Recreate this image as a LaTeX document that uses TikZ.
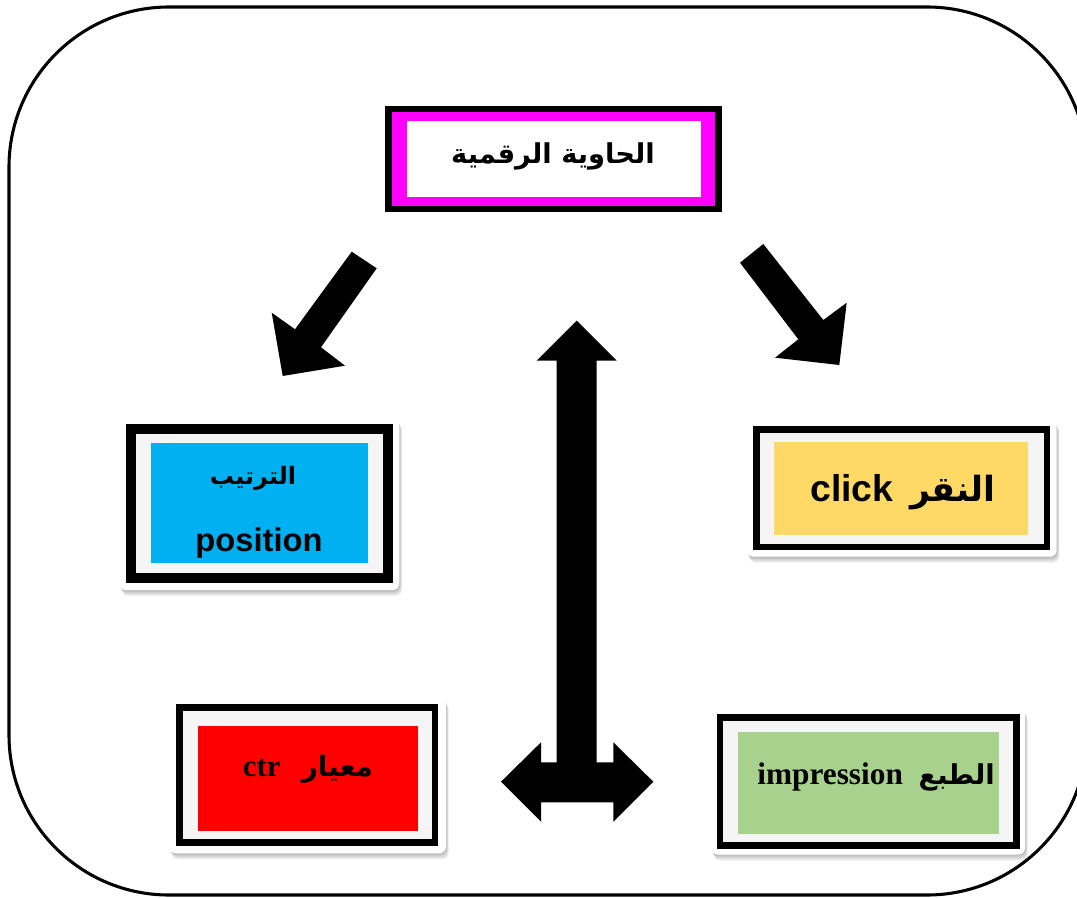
\documentclass[tikz,border=0pt]{standalone}
\usepackage{fontspec}
\setmainfont{Liberation Sans}
\newfontfamily\arabicfont[Script=Arabic]{DejaVu Sans}
\newfontfamily\sansfnt{Liberation Sans}
\newfontfamily\seriffnt{Liberation Serif}
\TeXXeTstate=1
\definecolor{magentaB}{HTML}{FF00FF}
\definecolor{blueB}{HTML}{00B0F0}
\definecolor{yellowB}{HTML}{FFD966}
\definecolor{redB}{HTML}{FF0000}
\definecolor{greenB}{HTML}{A9D18E}
\definecolor{paleB}{HTML}{F5F5F5}
\newcommand\cardshadow[4]{%
  \foreach \s in {1,...,7}{\fill[black,opacity=0.045,rounded corners=5pt] (#1+\s*0.4,#2+\s*0.9) rectangle (#3+\s*0.4,#4+\s*0.9);}%
  \fill[white,rounded corners=5pt] (#1,#2) rectangle (#3,#4);}
\tikzset{
  blockarrow/.style={fill=black},
  txt/.style={inner sep=0pt,anchor=base,text=black}
}
\begin{document}
\begin{tikzpicture}[x=0.75pt,y=-0.75pt]
\useasboundingbox (0,0) rectangle (1077,898);
\clip (0,0) rectangle (1077,898);
% outer frame
\draw[line width=2.3pt,rounded corners=120pt] (9,7) rectangle (1087,895);

% title box
\fill[black] (385,106) rectangle (721.7,211.7);
\fill[magentaB] (391.7,112) rectangle (715,206);
\fill[white] (406.7,120.7) rectangle (700.7,197.3);
\node[txt] (title) at (553,164) {\fontsize{20.5}{24}\arabicfont\bfseries\beginR الحاوية الرقمية\endR};

% position box
\cardshadow{119.3}{418.3}{399.3}{590}
\fill[black] (126,424) rectangle (392.7,583.3);
\fill[paleB] (136,434) rectangle (383.3,573.3);
\fill[blueB] (151,443.3) rectangle (367.7,563.3);
\node[txt] (tartib) at (253,484) {\fontsize{18}{22}\arabicfont\bfseries\beginR الترتيب\endR};
\node[txt] (position) at (259,551.7) {\fontsize{24.5}{28}\sansfnt\bfseries position};

% click box
\cardshadow{746.7}{420}{1056.7}{556.7}
\fill[black] (753.3,426) rectangle (1050,550);
\fill[paleB] (759.5,432.7) rectangle (1044,544);
\fill[yellowB] (774.3,441.7) rectangle (1028.3,535);
\node[txt] (click) at (903,501.7) {\fontsize{28}{30}\sansfnt\bfseries click\hspace{0.45em}{\arabicfont\bfseries\fontsize{26}{28}\selectfont\beginR النقر\endR}};

% ctr box
\cardshadow{169.3}{697.3}{446}{853.3}
\fill[black] (176,704) rectangle (438.3,846);
\fill[paleB] (182.7,710.7) rectangle (431.7,839.3);
\fill[redB] (197.7,726) rectangle (418.3,830.7);
\node[txt] (ctr) at (308,776) {\fontsize{23}{26}\seriffnt\bfseries ctr\hspace{0.7em}{\arabicfont\bfseries\fontsize{21}{24}\selectfont\beginR معيار\endR}};

% impression box
\cardshadow{711}{707.5}{1025}{854.5}
\fill[black] (716.5,714) rectangle (1019.5,848.5);
\fill[paleB] (723,720.5) rectangle (1013,842);
\fill[greenB] (737.5,731.5) rectangle (999,834);
\node[txt] (impr) at (876,784) {\fontsize{23.5}{26}\seriffnt\bfseries impression\hspace{0.5em}{\arabicfont\bfseries\fontsize{20.5}{24}\selectfont\beginR الطبع\endR}};

% block arrows
\fill[blockarrow] (351.7,251.7) -- (376.7,268.3) -- (321,347.3) -- (345,365.7) -- (282.7,376) -- (271.7,312.7) -- (295,329.3) -- cycle;
\fill[blockarrow] (740,262.7) -- (763.3,244) -- (823.3,320) -- (846.7,302.7) -- (839.3,365) -- (775,357.7) -- (798.3,339.3) -- cycle;
\fill[blockarrow] (576.7,320.7) -- (616.7,360.7) -- (596.7,360.7) -- (596.7,762.3) -- (613.3,762.3) -- (613.3,742.3) -- (653.3,781.7) -- (613.3,821.7) -- (613.3,802.3) -- (541,802.3) -- (541,821.7) -- (501,781.7) -- (541,742.3) -- (541,762.3) -- (556.7,762.3) -- (556.7,360.7) -- (536.7,360.7) -- cycle;
\end{tikzpicture}
\end{document}
